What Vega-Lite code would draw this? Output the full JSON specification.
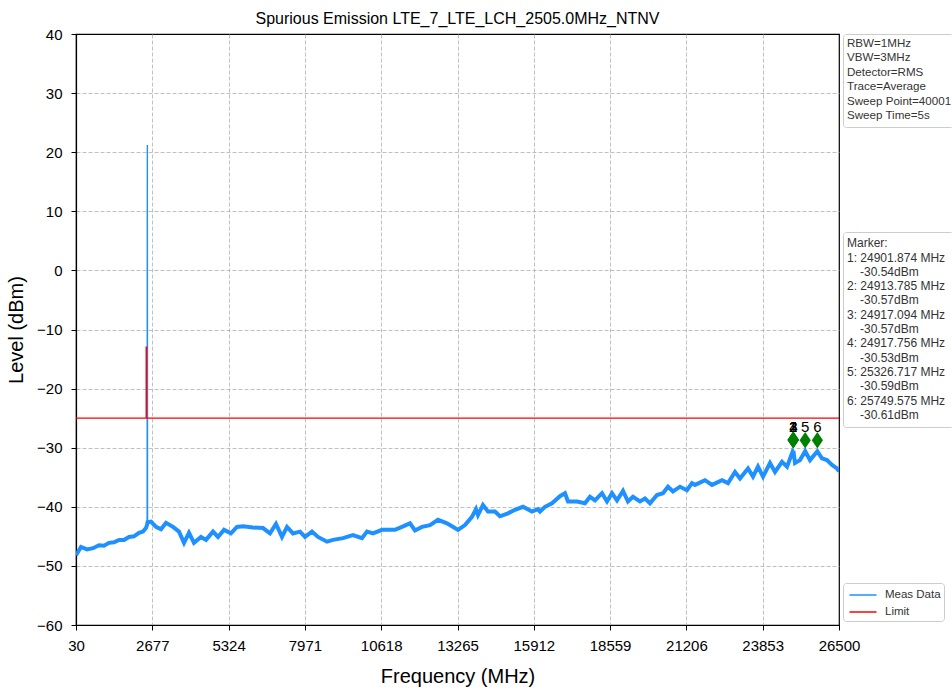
{
  "$schema": "https://vega.github.io/schema/vega-lite/v6.json",
  "autosize": {"type": "pad"},
  "padding": {"left": 5, "top": 10, "right": 0, "bottom": 0},
  "background": "white",
  "bounds": "flush",
  "spacing": 4,
  "config": {
    "font": "Liberation Sans",
    "view": {"stroke": "#000000", "strokeWidth": 1.2},
    "axis": {
      "labelFontSize": 15, "labelColor": "#000000", "labelFont": "Liberation Sans",
      "titleFontSize": 20, "titleFontWeight": "normal", "titleColor": "#000000", "titleFont": "Liberation Sans",
      "tickColor": "#000000", "tickSize": 5, "tickWidth": 1,
      "domainColor": "#000000", "domainWidth": 1.2,
      "gridColor": "#b0b0b0", "gridDash": [4, 2], "gridWidth": 0.8,
      "labelFlush": false, "labelOverlap": false
    },
    "axisX": {"labelPadding": 8, "titlePadding": 13},
    "axisY": {"labelPadding": 9, "titlePadding": 10}
  },
  "datasets": {
    "meas": [
      {"freq":30,"level":-48.2},{"freq":203,"level":-46.8},{"freq":412,"level":-47.2},{"freq":620,"level":-47.0},{"freq":828,"level":-46.5},{"freq":1001,"level":-46.6},{"freq":1175,"level":-46.1},{"freq":1348,"level":-46.0},{"freq":1522,"level":-45.6},{"freq":1695,"level":-45.6},{"freq":1869,"level":-45.1},{"freq":2042,"level":-45.0},{"freq":2216,"level":-44.4},{"freq":2354,"level":-44.2},{"freq":2458,"level":-43.6},{"freq":2498,"level":-43.0},{"freq":2505,"level":21.2},{"freq":2512,"level":-42.6},{"freq":2632,"level":-42.5},{"freq":2805,"level":-43.4},{"freq":2979,"level":-43.8},{"freq":3152,"level":-42.7},{"freq":3395,"level":-43.4},{"freq":3603,"level":-44.2},{"freq":3777,"level":-46.1},{"freq":3950,"level":-44.4},{"freq":4123,"level":-46.1},{"freq":4366,"level":-45.1},{"freq":4540,"level":-45.6},{"freq":4783,"level":-44.2},{"freq":4956,"level":-45.1},{"freq":5164,"level":-43.9},{"freq":5407,"level":-44.5},{"freq":5615,"level":-43.4},{"freq":5823,"level":-43.3},{"freq":6170,"level":-43.5},{"freq":6517,"level":-43.6},{"freq":6760,"level":-44.5},{"freq":6968,"level":-42.9},{"freq":7176,"level":-45.1},{"freq":7350,"level":-43.4},{"freq":7558,"level":-44.5},{"freq":7801,"level":-44.2},{"freq":7974,"level":-45.1},{"freq":8217,"level":-44.2},{"freq":8425,"level":-45.1},{"freq":8737,"level":-45.9},{"freq":8945,"level":-45.6},{"freq":9292,"level":-45.3},{"freq":9639,"level":-44.8},{"freq":9951,"level":-45.3},{"freq":10125,"level":-44.2},{"freq":10333,"level":-44.5},{"freq":10645,"level":-43.9},{"freq":11096,"level":-43.9},{"freq":11339,"level":-43.4},{"freq":11617,"level":-42.8},{"freq":11790,"level":-44.0},{"freq":12033,"level":-43.4},{"freq":12311,"level":-43.1},{"freq":12588,"level":-42.2},{"freq":12900,"level":-42.8},{"freq":13073,"level":-43.3},{"freq":13282,"level":-43.9},{"freq":13525,"level":-43.1},{"freq":13767,"level":-41.7},{"freq":13906,"level":-40.4},{"freq":13975,"level":-41.4},{"freq":14149,"level":-39.7},{"freq":14322,"level":-40.8},{"freq":14565,"level":-40.8},{"freq":14739,"level":-41.6},{"freq":15016,"level":-41.1},{"freq":15259,"level":-40.5},{"freq":15537,"level":-40.0},{"freq":15849,"level":-40.8},{"freq":16057,"level":-40.4},{"freq":16126,"level":-40.8},{"freq":16300,"level":-40.0},{"freq":16543,"level":-39.4},{"freq":16820,"level":-38.2},{"freq":16994,"level":-37.7},{"freq":17098,"level":-39.1},{"freq":17410,"level":-39.1},{"freq":17688,"level":-39.4},{"freq":17861,"level":-38.3},{"freq":18035,"level":-38.9},{"freq":18278,"level":-37.7},{"freq":18451,"level":-39.1},{"freq":18625,"level":-37.7},{"freq":18798,"level":-38.9},{"freq":19006,"level":-37.3},{"freq":19179,"level":-39.1},{"freq":19353,"level":-38.3},{"freq":19596,"level":-39.1},{"freq":19769,"level":-38.6},{"freq":19943,"level":-39.4},{"freq":20186,"level":-38.0},{"freq":20394,"level":-37.7},{"freq":20567,"level":-36.6},{"freq":20741,"level":-37.4},{"freq":20984,"level":-36.6},{"freq":21227,"level":-37.2},{"freq":21400,"level":-36.0},{"freq":21504,"level":-36.3},{"freq":21851,"level":-35.5},{"freq":22094,"level":-36.3},{"freq":22441,"level":-35.5},{"freq":22649,"level":-36.0},{"freq":22892,"level":-34.1},{"freq":23066,"level":-35.2},{"freq":23343,"level":-33.5},{"freq":23517,"level":-34.9},{"freq":23690,"level":-33.2},{"freq":23864,"level":-34.9},{"freq":24107,"level":-32.6},{"freq":24280,"level":-34.1},{"freq":24523,"level":-32.4},{"freq":24697,"level":-33.2},{"freq":24901.874,"level":-30.54},{"freq":24913.785,"level":-30.57},{"freq":24917.094,"level":-30.57},{"freq":24917.756,"level":-30.53},{"freq":24974,"level":-32.6},{"freq":25148,"level":-32.1},{"freq":25326.717,"level":-30.59},{"freq":25495,"level":-32.1},{"freq":25749.575,"level":-30.61},{"freq":25909,"level":-31.8},{"freq":26083,"level":-32.1},{"freq":26256,"level":-32.9},{"freq":26430,"level":-33.5},{"freq":26500,"level":-34.0}
    ],
    "limit": [
      {"freq":30,"level":-25},{"freq":2465,"level":-25},{"freq":2465,"level":-13},{"freq":2480,"level":-13},{"freq":2480,"level":-25},{"freq":26500,"level":-25}
    ],
    "markers": [
      {"id":"1","freq":24901.874,"level":-30.54},
      {"id":"2","freq":24913.785,"level":-30.57},
      {"id":"3","freq":24917.094,"level":-30.57},
      {"id":"4","freq":24917.756,"level":-30.53},
      {"id":"5","freq":25326.717,"level":-30.59},
      {"id":"6","freq":25749.575,"level":-30.61}
    ],
    "info": [
      {"line":0,"text":"RBW=1MHz"},
      {"line":1,"text":"VBW=3MHz"},
      {"line":2,"text":"Detector=RMS"},
      {"line":3,"text":"Trace=Average"},
      {"line":4,"text":"Sweep Point=40001"},
      {"line":5,"text":"Sweep Time=5s"}
    ],
    "markerText": [
      {"line":0,"kind":"head","text":"Marker:"},
      {"line":1,"kind":"freq","text":"1: 24901.874 MHz"},
      {"line":2,"kind":"level","text":"-30.54dBm"},
      {"line":3,"kind":"freq","text":"2: 24913.785 MHz"},
      {"line":4,"kind":"level","text":"-30.57dBm"},
      {"line":5,"kind":"freq","text":"3: 24917.094 MHz"},
      {"line":6,"kind":"level","text":"-30.57dBm"},
      {"line":7,"kind":"freq","text":"4: 24917.756 MHz"},
      {"line":8,"kind":"level","text":"-30.53dBm"},
      {"line":9,"kind":"freq","text":"5: 25326.717 MHz"},
      {"line":10,"kind":"level","text":"-30.59dBm"},
      {"line":11,"kind":"freq","text":"6: 25749.575 MHz"},
      {"line":12,"kind":"level","text":"-30.61dBm"}
    ]
  },
  "resolve": {"scale": {"x": "independent", "y": "independent"}},
  "hconcat": [
    {
      "width": 763,
      "height": 591,
      "title": {"text": "Spurious Emission LTE_7_LTE_LCH_2505.0MHz_NTNV", "fontSize": 16, "fontWeight": "normal", "font": "Liberation Sans", "color": "#000000", "offset": 0, "anchor": "middle"},
      "layer": [
        {
          "data": {"name": "meas"},
          "mark": {"type": "line", "strokeWidth": 1.4, "clip": true},
          "encoding": {
            "x": {"field": "freq", "type": "quantitative",
                  "scale": {"domain": [30, 26500], "nice": false, "zero": false},
                  "axis": {"values": [30, 2677, 5324, 7971, 10618, 13265, 15912, 18559, 21206, 23853, 26500], "format": "d", "title": "Frequency (MHz)",
                           "gridOpacity": {"condition": {"test": "datum.value === 30 || datum.value === 26500", "value": 0}, "value": 1}}},
            "y": {"field": "level", "type": "quantitative",
                  "scale": {"domain": [-60, 40], "nice": false, "zero": false},
                  "axis": {"values": [-60, -50, -40, -30, -20, -10, 0, 10, 20, 30, 40], "title": "Level (dBm)",
                           "gridOpacity": {"condition": {"test": "datum.value === 40 || datum.value === -60", "value": 0}, "value": 1}}},
            "color": {"datum": "Meas Data", "type": "nominal",
                      "scale": {"domain": ["Meas Data", "Limit"], "range": ["#1E90FF", "#FF0000"]},
                      "legend": {"title": null, "orient": "none", "legendX": 767, "legendY": 549,
                                 "symbolType": "M-0.69,0H2.69", "symbolStrokeWidth": 1.5, "symbolSize": 256,
                                 "labelFontSize": 11.5, "labelColor": "#333333", "labelFont": "Liberation Sans",
                                 "strokeColor": "#cccccc", "fillColor": "#ffffff", "padding": 3, "cornerRadius": 3,
                                 "labelOffset": 21, "rowPadding": 2}}
          }
        },
        {
          "data": {"name": "meas"},
          "transform": [{"filter": "datum.level < 0"}],
          "mark": {"type": "line", "strokeWidth": 4, "clip": true},
          "encoding": {
            "x": {"field": "freq", "type": "quantitative"},
            "y": {"field": "level", "type": "quantitative"},
            "color": {"datum": "Meas Data", "type": "nominal"}
          }
        },
        {
          "data": {"name": "limit"},
          "mark": {"type": "line", "strokeWidth": 1.3, "clip": true},
          "encoding": {
            "x": {"field": "freq", "type": "quantitative"},
            "y": {"field": "level", "type": "quantitative"},
            "color": {"datum": "Limit", "type": "nominal"}
          }
        },
        {
          "data": {"name": "markers"},
          "mark": {"type": "point", "shape": "M0,-1L0.68,0L0,1L-0.68,0Z", "size": 272, "filled": true, "color": "#008000", "opacity": 1, "yOffset": -11},
          "encoding": {
            "x": {"field": "freq", "type": "quantitative"},
            "y": {"field": "level", "type": "quantitative"}
          }
        },
        {
          "data": {"name": "markers"},
          "mark": {"type": "text", "fontSize": 15, "dy": -19, "baseline": "alphabetic", "align": "center", "color": "#000000", "font": "Liberation Sans"},
          "encoding": {
            "x": {"field": "freq", "type": "quantitative"},
            "y": {"field": "level", "type": "quantitative"},
            "text": {"field": "id"}
          }
        }
      ]
    },
    {
      "bounds": "flush",
      "spacing": 105,
      "resolve": {"scale": {"x": "independent", "y": "independent"}},
      "vconcat": [
        {
          "width": 110,
          "height": 93,
          "view": {"stroke": "#cccccc", "strokeWidth": 1, "cornerRadius": 3, "fill": "#ffffff"},
          "data": {"name": "info"},
          "mark": {"type": "text", "align": "left", "baseline": "middle", "fontSize": 11.6, "color": "#333333", "dx": 4, "font": "Liberation Sans"},
          "encoding": {
            "x": {"datum": 0, "type": "quantitative", "scale": {"domain": [0, 1]}, "axis": null},
            "y": {"field": "line", "type": "quantitative", "scale": {"domain": [-0.694, 5.764], "reverse": true, "nice": false, "zero": false}, "axis": null},
            "text": {"field": "text"}
          }
        },
        {
          "width": 110,
          "height": 195,
          "view": {"stroke": "#cccccc", "strokeWidth": 1, "cornerRadius": 3, "fill": "#ffffff"},
          "data": {"name": "markerText"},
          "encoding": {
            "x": {"datum": 0, "type": "quantitative", "scale": {"domain": [0, 1]}, "axis": null},
            "y": {"field": "line", "type": "quantitative", "scale": {"domain": [-0.79, 12.846], "reverse": true, "nice": false, "zero": false}, "axis": null},
            "text": {"field": "text"}
          },
          "layer": [
            {
              "transform": [{"filter": "datum.kind !== 'level'"}],
              "mark": {"type": "text", "align": "left", "baseline": "middle", "fontSize": 12, "color": "#333333", "dx": 4, "font": "Liberation Sans"}
            },
            {
              "transform": [{"filter": "datum.kind === 'level'"}],
              "mark": {"type": "text", "align": "left", "baseline": "middle", "fontSize": 12, "color": "#333333", "dx": 17, "font": "Liberation Sans"}
            }
          ]
        }
      ]
    }
  ]
}
